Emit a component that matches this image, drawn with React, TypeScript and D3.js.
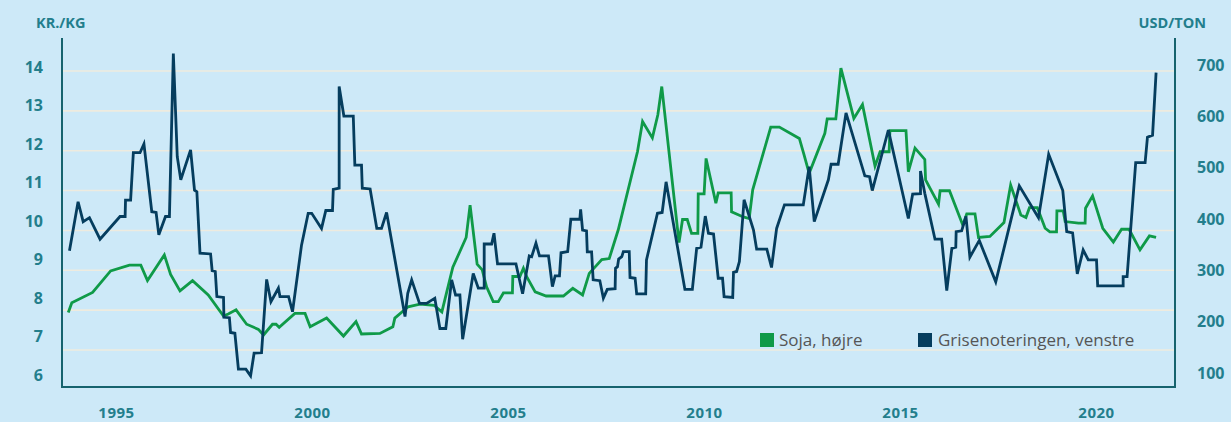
import React from "react";
import * as d3 from "d3";

const porkYears = [1993.80,1994.02,1994.15,1994.31,1994.58,1995.09,1995.22,1995.23,1995.36,1995.43,1995.60,1995.70,1995.90,1996.01,1996.08,1996.25,1996.35,1996.45,1996.55,1996.64,1996.89,1996.99,1997.05,1997.13,1997.40,1997.44,1997.52,1997.56,1997.73,1997.74,1997.88,1997.91,1998.02,1998.11,1998.30,1998.42,1998.51,1998.70,1998.83,1998.94,1999.13,1999.17,1999.39,1999.49,1999.72,1999.89,1999.98,2000.23,2000.34,2000.51,2000.53,2000.68,2000.68,2000.80,2001.04,2001.08,2001.25,2001.27,2001.47,2001.64,2001.76,2001.89,2002.36,2002.43,2002.53,2002.73,2002.91,2003.12,2003.25,2003.40,2003.55,2003.65,2003.76,2003.83,2004.10,2004.23,2004.38,2004.38,2004.57,2004.63,2004.72,2005.19,2005.36,2005.53,2005.59,2005.70,2005.79,2006.02,2006.12,2006.19,2006.30,2006.34,2006.51,2006.59,2006.82,2006.84,2006.89,2006.99,2007.01,2007.12,2007.16,2007.33,2007.42,2007.52,2007.72,2007.73,2007.78,2007.81,2007.89,2007.93,2008.08,2008.10,2008.23,2008.27,2008.50,2008.52,2008.80,2008.92,2009.02,2009.50,2009.69,2009.80,2009.91,2010.02,2010.10,2010.23,2010.35,2010.46,2010.50,2010.72,2010.74,2010.82,2010.89,2011.01,2011.25,2011.33,2011.59,2011.71,2011.84,2012.04,2012.52,2012.67,2012.80,2013.16,2013.23,2013.41,2013.61,2014.09,2014.21,2014.28,2014.69,2015.20,2015.31,2015.51,2015.51,2015.62,2015.88,2016.05,2016.18,2016.31,2016.41,2016.42,2016.56,2016.67,2016.77,2017.01,2017.43,2017.64,2018.03,2018.52,2018.78,2019.14,2019.24,2019.39,2019.51,2019.66,2019.79,2020.00,2020.03,2020.68,2020.68,2020.78,2021.00,2021.24,2021.30,2021.43,2021.52];
const porkValues = [9.49,10.72,10.22,10.32,9.78,10.35,10.35,10.76,10.76,11.95,11.95,12.17,10.47,10.45,9.89,10.35,10.35,14.44,11.85,11.27,12.02,11.01,10.97,9.43,9.41,8.99,8.97,8.34,8.32,7.82,7.81,7.44,7.42,6.52,6.52,6.35,6.92,6.93,8.77,8.21,8.55,8.34,8.34,7.96,9.63,10.43,10.43,10.05,10.50,10.50,11.03,11.06,13.61,12.87,12.87,11.64,11.64,11.06,11.04,10.05,10.05,10.45,7.84,8.42,8.76,8.17,8.17,8.30,7.54,7.54,8.76,8.38,8.38,7.27,8.92,8.55,8.55,9.66,9.66,9.93,9.16,9.16,8.41,9.36,9.34,9.68,9.36,9.36,8.59,8.86,8.86,9.44,9.47,10.28,10.28,10.53,10.01,9.99,9.46,9.46,8.76,8.74,8.30,8.52,8.54,9.05,9.09,9.28,9.34,9.47,9.47,8.82,8.80,8.41,8.41,9.26,10.43,10.45,11.22,8.52,8.52,9.55,9.58,10.36,9.93,9.91,8.80,8.80,8.34,8.32,8.95,8.97,9.22,10.77,10.01,9.53,9.53,9.07,10.05,10.64,10.64,11.60,10.22,11.27,11.66,11.66,12.95,11.37,11.35,11.00,12.52,10.30,10.91,10.92,11.49,10.93,9.78,9.78,8.49,9.55,9.58,9.97,9.99,10.35,9.33,9.75,8.71,9.55,11.12,10.32,11.91,11.00,9.97,9.94,8.91,9.51,9.26,9.26,8.61,8.61,8.84,8.84,11.70,11.70,12.34,12.39,13.96];

const soyYears = [1993.77,1993.86,1994.39,1994.85,1995.33,1995.62,1995.79,1996.22,1996.38,1996.62,1996.94,1997.34,1997.73,1997.85,1998.05,1998.32,1998.62,1998.75,1998.98,1999.07,1999.15,1999.55,1999.81,1999.94,2000.36,2000.79,2001.11,2001.25,2001.72,2002.05,2002.10,2002.44,2002.74,2003.10,2003.30,2003.58,2003.92,2004.02,2004.20,2004.33,2004.44,2004.61,2004.74,2004.87,2005.10,2005.11,2005.29,2005.38,2005.46,2005.68,2005.96,2006.40,2006.64,2006.89,2007.06,2007.38,2007.57,2007.80,2008.29,2008.42,2008.67,2008.81,2008.91,2009.35,2009.44,2009.56,2009.67,2009.83,2009.84,2009.99,2010.04,2010.29,2010.35,2010.68,2010.69,2010.99,2011.14,2011.23,2011.69,2011.91,2012.42,2012.54,2012.67,2013.07,2013.13,2013.35,2013.48,2013.81,2014.03,2014.35,2014.48,2014.71,2014.73,2015.14,2015.20,2015.37,2015.62,2015.64,2015.97,2016.01,2016.25,2016.59,2016.69,2016.90,2016.99,2017.28,2017.64,2017.81,2018.07,2018.20,2018.29,2018.49,2018.69,2018.81,2018.98,2018.99,2019.15,2019.20,2019.54,2019.71,2019.72,2019.90,2020.16,2020.43,2020.64,2020.83,2021.11,2021.35,2021.52];
const soyValues = [218,237,257,299,310,310,280,330,292,260,280,252,211,215,223,195,185,174,195,195,189,216,216,190,207,172,200,176,177,190,207,229,234,232,219,306,364,427,312,301,268,239,239,256,256,288,288,304,288,258,250,250,265,252,294,321,323,379,531,590,558,603,658,354,399,399,372,372,449,449,518,431,451,451,414,404,401,457,579,579,557,525,489,567,595,595,694,596,623,503,531,531,572,572,492,538,516,476,429,455,455,388,410,410,364,366,393,466,408,403,422,422,382,375,375,416,416,395,392,392,421,445,382,355,380,380,340,367,364];

const leftTicks = [6, 7, 8, 9, 10, 11, 12, 13, 14];
const gridTicks = [7, 8, 9, 10, 11, 12, 13, 14];
const rightTicks = [100, 200, 300, 400, 500, 600, 700];
const yearTicks = [1995, 2000, 2005, 2010, 2015, 2020];

const W = 1231, H = 422;
const BG = "#cde9f8";
const NAVY = "#053d5e";
const GREEN = "#0f9a48";
const TEAL_TXT = "#237e8c";
const AXIS = "#16636e";
const GRID = "#eeebdf";
const FONT = "'Open Sans', 'DejaVu Sans', sans-serif";

export default function App() {
  const plotL = 62, plotR = 1175, plotT = 38, plotB = 387;
  const x = d3.scaleLinear().domain([1995, 2020]).range([116.5, 1096.5]);
  const yL = d3.scaleLinear().domain([7, 14]).range([350, 71]);
  const yLLabel = d3.scaleLinear().domain([6, 14]).range([375, 67]);
  const yR = d3.scaleLinear().domain([100, 700]).range([373, 65]);

  const pork = porkYears.map((yr, i) => [yr, porkValues[i]] as [number, number]);
  const soy = soyYears.map((yr, i) => [yr, soyValues[i]] as [number, number]);

  const porkLine = d3.line<[number, number]>().x(d => x(d[0])).y(d => yL(d[1]));
  const soyLine = d3.line<[number, number]>().x(d => x(d[0])).y(d => yR(d[1]));

  return (
    <svg width={W} height={H} style={{ position: "absolute", left: 0, top: 0, display: "block" }}>
      <rect x={0} y={0} width={W} height={H} fill={BG} />
      {gridTicks.map(t => (
        <line key={"g" + t} x1={plotL} x2={plotR} y1={yL(t)} y2={yL(t)} stroke={GRID} strokeWidth={1.6} />
      ))}
      <path d={soyLine(soy) || ""} fill="none" stroke={GREEN} strokeWidth={2.8} strokeLinejoin="miter" strokeMiterlimit={4} />
      <path d={porkLine(pork) || ""} fill="none" stroke={NAVY} strokeWidth={2.8} strokeLinejoin="miter" strokeMiterlimit={4} />
      <line x1={plotL} x2={plotL} y1={plotT} y2={plotB} stroke={AXIS} strokeWidth={2} />
      <line x1={plotR} x2={plotR} y1={plotT} y2={plotB} stroke={AXIS} strokeWidth={2} />
      <line x1={plotL - 1} x2={plotR + 1} y1={plotB} y2={plotB} stroke={AXIS} strokeWidth={2} />
      {leftTicks.map(t => (
        <text key={"l" + t} x={43} y={yLLabel(t)} dy="0.36em" textAnchor="end" fill={TEAL_TXT}
          fontFamily={FONT} fontWeight={700} fontSize={16}>{t}</text>
      ))}
      {rightTicks.map(t => (
        <text key={"r" + t} x={1197} y={yR(t)} dy="0.36em" textAnchor="start" fill={TEAL_TXT}
          fontFamily={FONT} fontWeight={700} fontSize={16}>{t}</text>
      ))}
      {yearTicks.map(t => (
        <text key={"x" + t} x={x(t)} y={418} textAnchor="middle" fill={TEAL_TXT}
          fontFamily={FONT} fontWeight={700} fontSize={15} letterSpacing={0.5}>{t}</text>
      ))}
      <text x={36} y={23} dy="0.36em" fill={TEAL_TXT} fontFamily={FONT} fontWeight={700} fontSize={14.5}>KR./KG</text>
      <text x={1206} y={23} dy="0.36em" textAnchor="end" fill={TEAL_TXT} fontFamily={FONT} fontWeight={700} fontSize={14.5}>USD/TON</text>
      <rect x={760} y={333} width={14} height={14} fill={GREEN} />
      <text x={779} y={340} dy="0.36em" fill="#555" fontFamily={FONT} fontSize={17}>Soja, højre</text>
      <rect x={918} y={333} width={14} height={14} fill={NAVY} />
      <text x={938} y={340} dy="0.36em" fill="#555" fontFamily={FONT} fontSize={17}>Grisenoteringen, venstre</text>
    </svg>
  );
}
